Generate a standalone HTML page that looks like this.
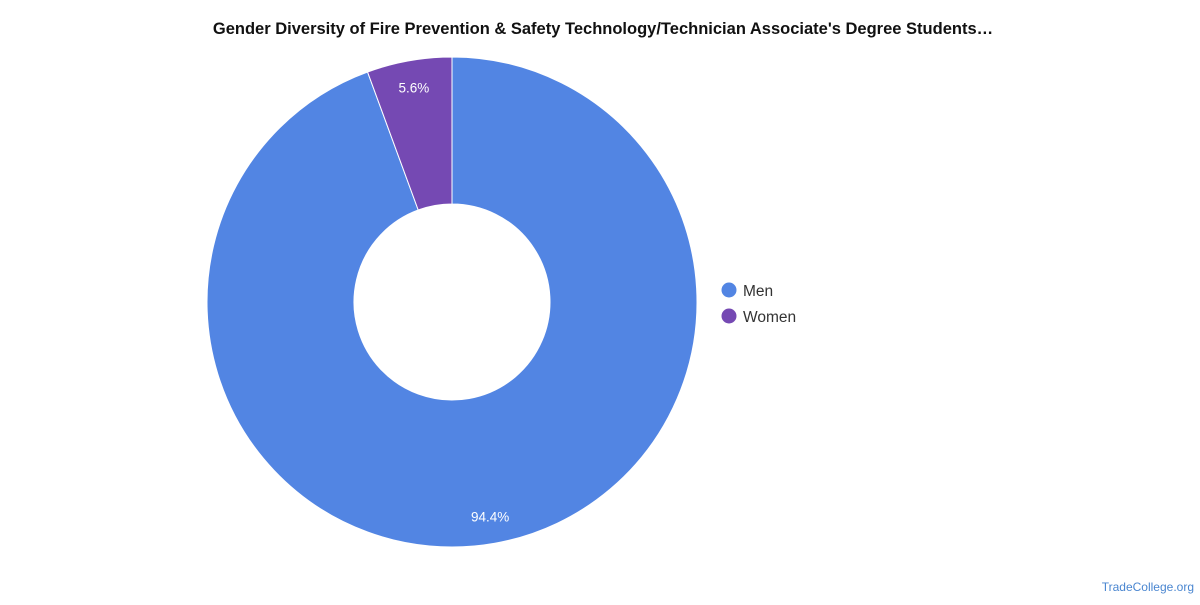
<!DOCTYPE html>
<html><head><meta charset="utf-8"><style>
body{margin:0;background:#fff;font-family:"Liberation Sans",sans-serif;}
</style></head><body>
<svg width="1200" height="600" viewBox="0 0 1200 600">
<text x="603" y="34" text-anchor="middle" font-size="16.5" font-weight="bold" fill="#111">Gender Diversity of Fire Prevention &amp; Safety Technology/Technician Associate's Degree Students…</text>
<g id="slices"></g>
<g>
<g><circle cx="729" cy="290" r="7.5" fill="#5285e3"/><text x="743" y="296" font-size="15.5" fill="#333">Men</text></g>
<g><circle cx="729" cy="316" r="7.5" fill="#7549b3"/><text x="743" y="322" font-size="15.5" fill="#333">Women</text></g>
</g>
<text x="1194" y="591" text-anchor="end" font-size="12" fill="#4a86d0">TradeCollege.org</text>
</svg>
<script>
const categories = ["Men", "Women"];
const values = [94.4, 5.6];
const labels = ["94.4%", "5.6%"];
const colors = ["#5285e3", "#7549b3"];
const cx = 452, cy = 302, R = 245, r = 98, LR = 218;
const g = document.getElementById('slices');
const ns = "http://www.w3.org/2000/svg";
const total = values.reduce((a,b)=>a+b,0);
function pt(a, rad){return [cx + rad*Math.sin(a), cy - rad*Math.cos(a)];}
let start = 0;
values.forEach((v,i)=>{
  const end = start + v/total*2*Math.PI;
  const large = end-start > Math.PI ? 1 : 0;
  const [x1,y1]=pt(start,R),[x2,y2]=pt(end,R),[x3,y3]=pt(end,r),[x4,y4]=pt(start,r);
  const p = document.createElementNS(ns,'path');
  p.setAttribute('d',`M${x1},${y1}A${R},${R} 0 ${large} 1 ${x2},${y2}L${x3},${y3}A${r},${r} 0 ${large} 0 ${x4},${y4}Z`);
  p.setAttribute('fill',colors[i]);
  p.setAttribute('stroke','#fff');
  p.setAttribute('stroke-width','1');
  
  
  g.appendChild(p);
  const [lx,ly]=pt((start+end)/2, LR);
  const t = document.createElementNS(ns,'text');
  t.setAttribute('x',lx); t.setAttribute('y',ly+5);
  t.setAttribute('text-anchor','middle'); t.setAttribute('font-size','13.5'); t.setAttribute('fill','#fff');
  t.textContent = labels[i];
  
  
  g.appendChild(t);
  start = end;
});
</script>
</body></html>
